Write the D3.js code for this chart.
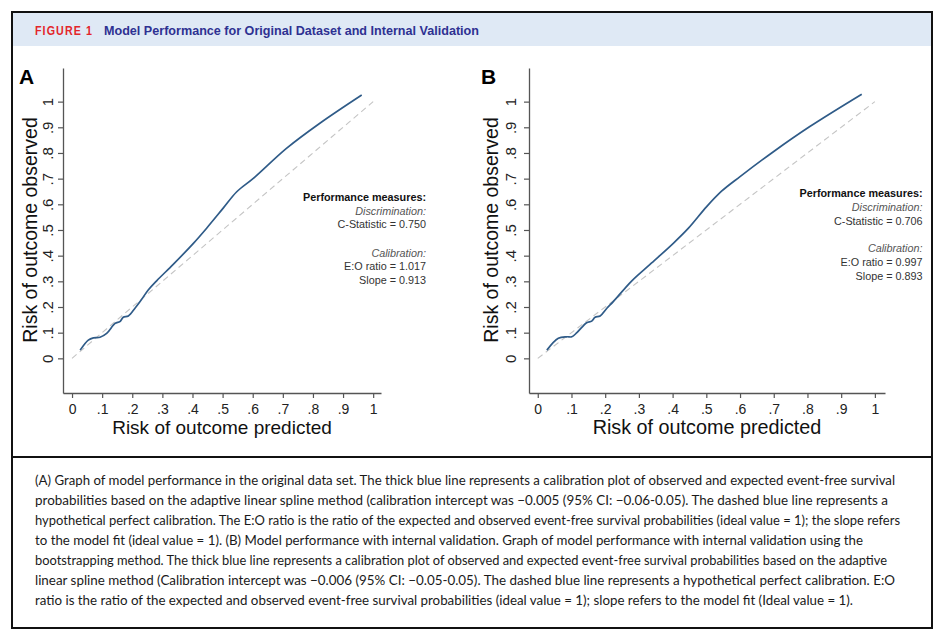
<!DOCTYPE html>
<html><head><meta charset="utf-8">
<script src="https://cdn.jsdelivr.net/npm/d3@7"></script>
<style>
html,body{margin:0;padding:0;background:#fff;}
svg{display:block;}
</style></head>
<body>
<svg id="fig" width="943" height="642"></svg>
<script>
// ---- data ----
const ticks = [0, 0.1, 0.2, 0.3, 0.4, 0.5, 0.6, 0.7, 0.8, 0.9, 1];
const tickLabels = ["0", ".1", ".2", ".3", ".4", ".5", ".6", ".7", ".8", ".9", "1"];
const idealLine = [[0, 0], [1, 1]];
const predA = [0.027, 0.054, 0.071, 0.093, 0.115, 0.143, 0.159, 0.170, 0.187, 0.209, 0.226, 0.253, 0.281, 0.336, 0.403, 0.447, 0.502, 0.547, 0.602, 0.712, 0.823, 0.962];
const obsA  = [0.032, 0.071, 0.080, 0.082, 0.097, 0.136, 0.143, 0.160, 0.165, 0.195, 0.221, 0.266, 0.302, 0.366, 0.448, 0.507, 0.585, 0.649, 0.701, 0.818, 0.916, 1.026];
const predB = [0.027, 0.061, 0.086, 0.101, 0.116, 0.145, 0.160, 0.170, 0.185, 0.205, 0.224, 0.279, 0.333, 0.402, 0.447, 0.501, 0.546, 0.600, 0.699, 0.807, 0.961];
const obsB  = [0.032, 0.078, 0.084, 0.084, 0.100, 0.139, 0.145, 0.160, 0.165, 0.195, 0.221, 0.302, 0.366, 0.448, 0.507, 0.591, 0.652, 0.708, 0.805, 0.903, 1.029];
const statsA = {c: "0.750", eo: "1.017", slope: "0.913"};
const statsB = {c: "0.706", eo: "0.997", slope: "0.893"};
const panelLetters = ["A", "B"];
const xTitle = "Risk of outcome predicted";
const yTitle = "Risk of outcome observed";
const figLabel = "FIGURE 1";
const figTitle = "Model Performance for Original Dataset and Internal Validation";
const captionLines = [
  "(A) Graph of model performance in the original data set. The thick blue line represents a calibration plot of observed and expected event-free survival",
  "probabilities based on the adaptive linear spline method (calibration intercept was \u22120.005 (95% CI: \u22120.06-0.05). The dashed blue line represents a",
  "hypothetical perfect calibration. The E:O ratio is the ratio of the expected and observed event-free survival probabilities (ideal value = 1); the slope refers",
  "to the model fit (ideal value = 1). (B) Model performance with internal validation. Graph of model performance with internal validation using the",
  "bootstrapping method. The thick blue line represents a calibration plot of observed and expected event-free survival probabilities based on the adaptive",
  "linear spline method (Calibration intercept was \u22120.006 (95% CI: \u22120.05-0.05). The dashed blue line represents a hypothetical perfect calibration. E:O",
  "ratio is the ratio of the expected and observed event-free survival probabilities (ideal value = 1); slope refers to the model fit (Ideal value = 1)."
];
const captionWidths = [860, 853, 865, 828, 852, 860, 818];

// ---- frame ----
const svg = d3.select("#fig");
svg.append("rect").attr("x", 12).attr("y", 12).attr("width", 920).attr("height", 34).attr("fill", "#dfe9f5");
svg.append("rect").attr("x", 12).attr("y", 12).attr("width", 920).attr("height", 616)
  .attr("fill", "none").attr("stroke", "#111").attr("stroke-width", 2);
svg.append("line").attr("x1", 12).attr("x2", 932).attr("y1", 457).attr("y2", 457)
  .attr("stroke", "#111").attr("stroke-width", 2);

svg.append("text").attr("x", 35).attr("y", 35)
  .attr("font-family", "'Liberation Sans', Arial, sans-serif").attr("font-weight", "bold")
  .attr("font-size", 12).attr("fill", "#e3262b").attr("letter-spacing", 1.2)
  .attr("textLength", 58).attr("lengthAdjust", "spacingAndGlyphs").text(figLabel);
svg.append("text").attr("x", 104).attr("y", 35)
  .attr("font-family", "'Liberation Sans Narrow', 'Liberation Sans', Arial, sans-serif").attr("font-weight", "bold")
  .attr("font-size", 13.5).attr("fill", "#2e3192")
  .attr("textLength", 375).attr("lengthAdjust", "spacingAndGlyphs").text(figTitle);

// caption
captionLines.forEach((t, i) => {
  svg.append("text").attr("x", 35).attr("y", 485 + i * 20)
    .attr("font-family", "Lato, 'Open Sans', sans-serif").attr("font-size", 13.2).attr("fill", "#1a1a1a")
    .attr("textLength", captionWidths[i]).attr("lengthAdjust", "spacingAndGlyphs").text(t);
});

// ---- panels ----
const panels = [
  {letter: panelLetters[0], xd: [-0.03, 1.026], xr: [63, 381], pred: predA, obs: obsA, stats: statsA,
   letterX: 19, ytitleX: 36.5, ytickX: 52.5, xTitleSize: 19, annX: 426, annY: [200.5, 215, 228, 257, 270, 284]},
  {letter: panelLetters[1], xd: [-0.026, 1.03], xr: [529, 885], pred: predB, obs: obsB, stats: statsB,
   letterX: 481, ytitleX: 498, ytickX: 516, xTitleSize: 19.8, annX: 922.5, annY: [196.5, 210.5, 224.5, 252, 266, 280]}
];
const yScale = d3.scaleLinear().domain([-0.135, 1.131]).range([393, 68]);
const axisFont = "'Liberation Sans', Arial, Helvetica, sans-serif";

panels.forEach(p => {
  const x = d3.scaleLinear().domain(p.xd).range(p.xr);
  const g = svg.append("g");

  // x axis
  const gx = g.append("g").attr("transform", `translate(0,${yScale.range()[0]})`)
    .call(d3.axisBottom(x).tickValues(ticks).tickSize(5).tickSizeOuter(0)
      .tickFormat((d, i) => tickLabels[i]));
  gx.select(".domain").attr("stroke", "#555").attr("stroke-width", 1.3);
  gx.selectAll(".tick line").attr("stroke", "#555").attr("stroke-width", 1.2);
  gx.selectAll(".tick text").attr("font-family", axisFont).attr("font-size", 14).attr("fill", "#222")
    .attr("y", 20.5).attr("dy", null);

  // y axis
  const gy = g.append("g").attr("transform", `translate(${x.range()[0]},0)`)
    .call(d3.axisLeft(yScale).tickValues(ticks).tickSize(5).tickSizeOuter(0)
      .tickFormat((d, i) => tickLabels[i]));
  gy.select(".domain").attr("stroke", "#555").attr("stroke-width", 1.3);
  gy.selectAll(".tick line").attr("stroke", "#555").attr("stroke-width", 1.2);
  gy.selectAll(".tick text").attr("font-family", axisFont).attr("font-size", 15).attr("fill", "#222")
    .attr("x", null).attr("dy", null).attr("text-anchor", "middle")
    .attr("transform", `translate(${p.ytickX - x.range()[0]},0) rotate(-90)`);

  // ideal line
  const line = d3.line().x(d => x(d[0])).y(d => yScale(d[1]));
  g.append("path").attr("d", line(idealLine)).attr("fill", "none")
    .attr("stroke", "#c4c4c4").attr("stroke-width", 1.1).attr("stroke-dasharray", "6,4");

  // calibration curve
  const pts = p.pred.map((v, i) => [v, p.obs[i]]);
  g.append("path").attr("d", line.curve(d3.curveCatmullRom.alpha(0.5))(pts)).attr("fill", "none")
    .attr("stroke", "#2f5b88").attr("stroke-width", 1.7).attr("stroke-linejoin", "round");

  // titles
  g.append("text").attr("x", (x.range()[0] + x.range()[1]) / 2).attr("y", 434)
    .attr("text-anchor", "middle").attr("font-family", axisFont).attr("font-size", p.xTitleSize)
    .attr("fill", "#111").text(xTitle);
  g.append("text").attr("transform", `translate(${p.ytitleX},230) rotate(-90)`)
    .attr("text-anchor", "middle").attr("font-family", axisFont).attr("font-size", 19.5)
    .attr("fill", "#111").text(yTitle);
  g.append("text").attr("x", p.letterX).attr("y", 83.5).attr("font-family", axisFont)
    .attr("font-weight", "bold").attr("font-size", 21).attr("fill", "#000").text(p.letter);

  // annotation
  const ann = [
    {t: "Performance measures:", b: true, i: false, c: "#111"},
    {t: "Discrimination:", b: false, i: true, c: "#555"},
    {t: "C-Statistic = " + p.stats.c, b: false, i: false, c: "#333"},
    {t: "Calibration:", b: false, i: true, c: "#555"},
    {t: "E:O ratio = " + p.stats.eo, b: false, i: false, c: "#333"},
    {t: "Slope = " + p.stats.slope, b: false, i: false, c: "#333"}
  ];
  ann.forEach((a, i) => {
    g.append("text").attr("x", p.annX).attr("y", p.annY[i]).attr("text-anchor", "end")
      .attr("font-family", axisFont).attr("font-size", 10.8)
      .attr("font-weight", a.b ? "bold" : "normal").attr("font-style", a.i ? "italic" : "normal")
      .attr("fill", a.c).text(a.t);
  });
});
</script>
</body></html>
